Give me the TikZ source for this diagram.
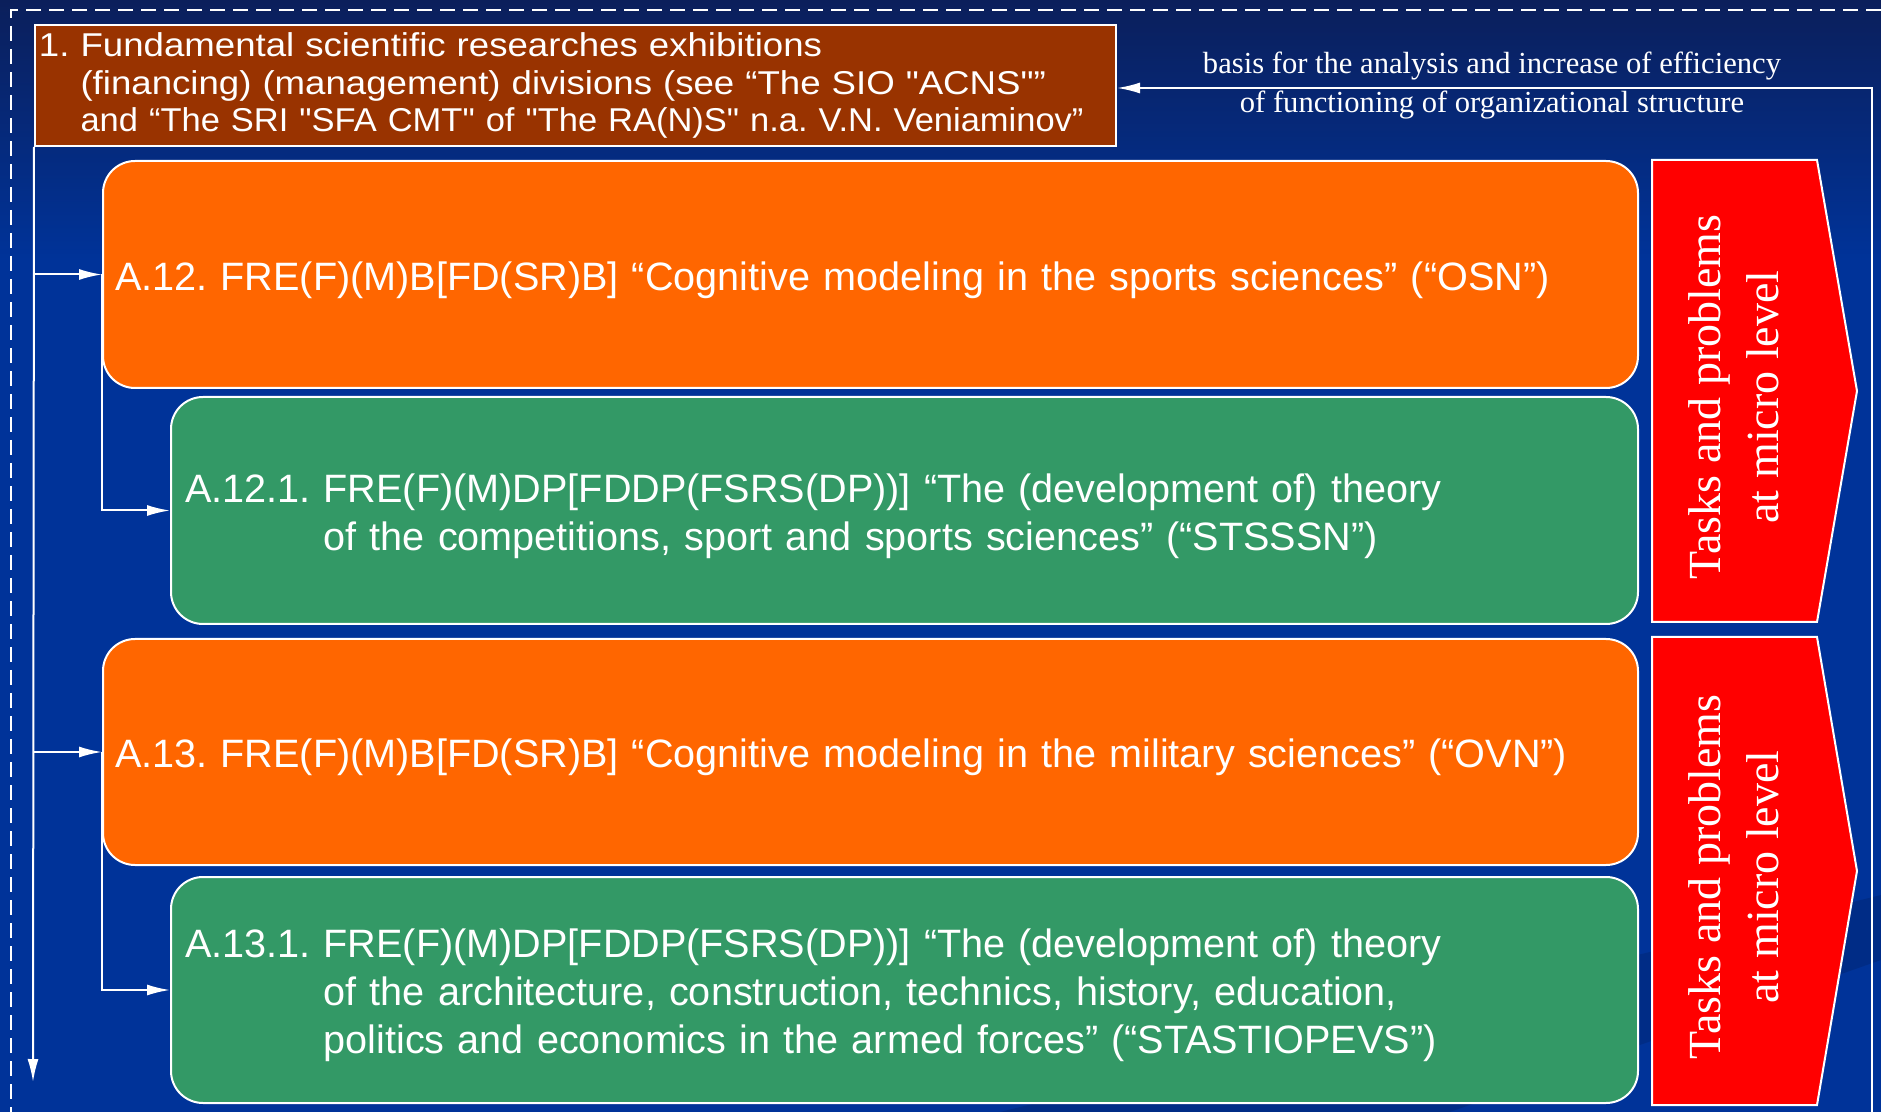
\documentclass[tikz,border=0pt]{standalone}
\usepackage{fontspec}
\setmainfont{Liberation Serif}
\newfontfamily\arial{Liberation Sans}
\newfontfamily\arialw[FakeStretch=1.11]{Liberation Sans}
\newfontfamily\arialn[FakeStretch=1.045]{Liberation Sans}
\usetikzlibrary{arrows.meta}
\definecolor{bgtop}{HTML}{0B1F5B}
\definecolor{bgbot}{HTML}{003399}
\definecolor{brownbox}{HTML}{993300}
\definecolor{orangebox}{HTML}{FF6600}
\definecolor{greenbox}{HTML}{339966}
\definecolor{redbox}{HTML}{FF0000}
\newcommand{\tstrut}{\rule{0pt}{20pt}}
\frenchspacing
\begin{document}
\begin{tikzpicture}[x=0.5pt,y=-0.5pt,
  wline/.style={draw=white, line width=1pt},
  arr/.style={wline, -{Latex[length=11.5pt,width=5.5pt]}},
  hdrbox/.style={draw=white, line width=1pt, fill=brownbox, text=white, anchor=north west,
    minimum width=540.5pt, minimum height=60.5pt, text width=536.5pt, inner xsep=2pt, inner ysep=0pt,
    align=left, font=\arialw\frenchspacing\fontsize{16.5}{18.75}\selectfont},
  rbox/.style={draw=white, line width=1pt, rounded corners=16pt, text=white, anchor=north west,
    minimum height=113.5pt, align=left, font=\arial\frenchspacing\fontsize{19.8}{24}\selectfont},
  obox/.style={rbox, fill=orangebox, minimum width=767.5pt, text width=755.5pt, inner xsep=6pt},
  gbox/.style={rbox, fill=greenbox, minimum width=733.5pt, text width=719.5pt, inner xsep=7pt},
  redshape/.style={draw=white, line width=1pt, fill=redbox},
  redtxt/.style={text=white, rotate=90, align=center, font=\fontsize{23}{29}\selectfont},
  fbtxt/.style={text=white, align=center, font=\fontsize{15.3}{19.5}\selectfont}]
\useasboundingbox (0,0) rectangle (1881,1112);
% background
\fill[bgbot] (0,0) rectangle (1881,1112);
\shade[top color=bgtop, bottom color=bgbot] (0,0) rectangle (1881,260);
\fill[black, opacity=0.12] (1000,1112) -- (1881,895) -- (1881,960) -- (1450,1112) -- cycle;
% dashed frame
\draw[white, line width=1pt, dash pattern=on 7.5pt off 4pt] (1881,10) -- (11,10) -- (11,1112);
% header
\node[hdrbox] (hdr) at (34,24) {\mbox{1. Fundamental scientific researches exhibitions}\\
\mbox{\hphantom{1. }(financing) (management) divisions (see “The SIO "ACNS"”}\\
\mbox{\hphantom{1. }{\arialn and “The SRI "SFA CMT" of "The RA(N)S" n.a. V.N. Veniaminov”}}};
% boxes
\node[obox] (o1) at (102,160) {\tstrut A.12. FRE(F)(M)B[FD(SR)B] “Cognitive modeling in the sports sciences” (“OSN”)};
\node[gbox] (g1) at (170,396) {\tstrut A.12.1. FRE(F)(M)DP[FDDP(FSRS(DP))] “The (development of) theory\\
\hphantom{A.12.1. }of the competitions, sport and sports sciences” (“STSSSN”)};
\node[obox, minimum height=113pt] (o2) at (102,638) {\tstrut A.13. FRE(F)(M)B[FD(SR)B] “Cognitive modeling in the military sciences” (“OVN”)};
\node[gbox, minimum height=113pt] (g2) at (170,876) {\tstrut A.13.1. FRE(F)(M)DP[FDDP(FSRS(DP))] “The (development of) theory\\
\hphantom{A.13.1. }of the architecture, construction, technics, history, education,\\
\hphantom{A.13.1. }politics and economics in the armed forces” (“STASTIOPEVS”)};
% red arrows
\path[redshape] (1652,160) -- (1817,160) -- (1857,391) -- (1817,622) -- (1652,622) -- cycle;
\node[redtxt] (r1) at (1734,397) {Tasks and problems\\at micro level};
\path[redshape] (1652,637) -- (1817,637) -- (1857,871) -- (1817,1105) -- (1652,1105) -- cycle;
\node[redtxt] (r2) at (1734,877) {Tasks and problems\\at micro level};
% feedback
\coordinate (fbBot) at (1872,1112);
\coordinate (fbTop) at (1872,88);
\draw[arr] (fbBot) -- (fbTop) -- (hdr.east |- fbTop);
\node[fbtxt] (fb) at (1492,86) {basis for the analysis and increase of efficiency\\of functioning of organizational structure};
% spine
\coordinate (spineEnd) at (33,1082);
\draw[arr] (hdr.south west) -- (spineEnd);
\draw[arr] (hdr.south west |- o1.west) -- (o1.west);
\draw[arr] (hdr.south west |- o2.west) -- (o2.west);
\draw[arr] (o1.west) |- (g1.west);
\draw[arr] (o2.west) |- (g2.west);
\end{tikzpicture}
\end{document}
